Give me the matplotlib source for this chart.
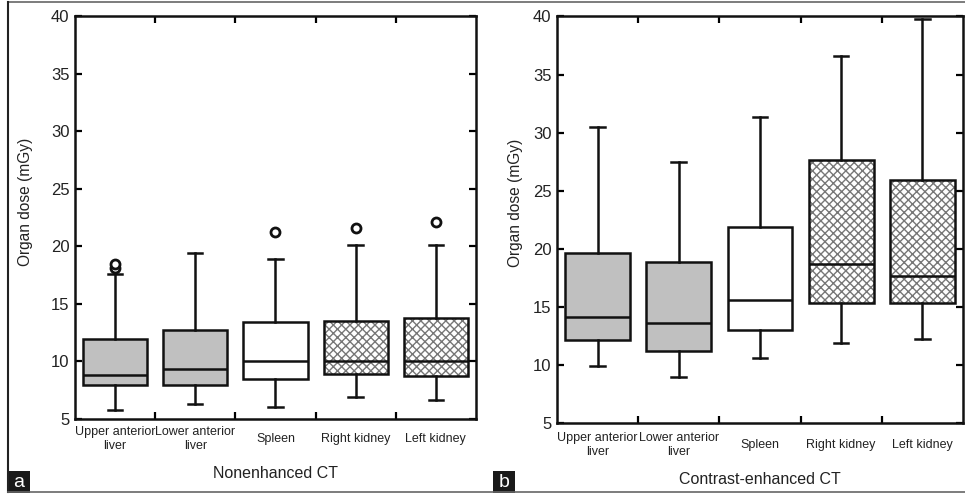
import matplotlib
matplotlib.use("Agg")
import matplotlib.pyplot as plt
from matplotlib.lines import Line2D
from matplotlib.patches import PathPatch, Rectangle

plt.rcParams['font.family'] = ['Liberation Sans', 'DejaVu Sans']
plt.rcParams['hatch.linewidth'] = 1.0

organs = ["Upper anterior\nliver", "Lower anterior\nliver", "Spleen", "Right kidney", "Left kidney"]
fills = ["#c0c0c0", "#c0c0c0", "white", "hatch", "hatch"]

# nonenhanced CT (panel a)
ne_low = [5.75, 6.25, 6.0, 6.9, 6.6]
ne_q1 = [7.9, 7.9, 8.4, 8.85, 8.7]
ne_med = [8.8, 9.3, 10.0, 10.0, 10.0]
ne_q3 = [11.9, 12.7, 13.4, 13.45, 13.7]
ne_high = [17.6, 19.4, 18.9, 20.05, 20.05]
ne_out = [[18.1, 18.4], [], [21.2], [21.6], [22.1]]

# contrast-enhanced CT (panel b)
ce_low = [9.9, 8.9, 10.6, 11.9, 12.2]
ce_q1 = [12.15, 11.15, 13.0, 15.3, 15.3]
ce_med = [14.1, 13.6, 15.6, 18.65, 17.6]
ce_q3 = [19.65, 18.85, 21.85, 27.6, 25.95]
ce_high = [30.5, 27.5, 31.3, 36.6, 39.8]
ce_out = [[], [], [], [], []]


def draw_panel(ax, low, q1, med, q3, high, out, xlabel, lab_pad, ylab_xy):
    stats = [dict(whislo=a, q1=b, med=c, q3=d, whishi=e, fliers=f)
             for a, b, c, d, e, f in zip(low, q1, med, q3, high, out)]
    lw = 1.8
    bp = ax.bxp(stats, positions=range(1, 6), widths=0.8, patch_artist=True,
                capwidths=0.18,
                boxprops=dict(linewidth=lw, edgecolor='#111111'),
                medianprops=dict(color='#111111', linewidth=lw),
                whiskerprops=dict(color='#111111', linewidth=lw),
                capprops=dict(color='#111111', linewidth=lw),
                flierprops=dict(marker='o', markersize=6.5, markerfacecolor='white',
                                markeredgecolor='#111111', markeredgewidth=2))
    for box, fc in zip(bp['boxes'], fills):
        if fc == 'hatch':
            box.set_facecolor('white')
            box.set_edgecolor('#777777')
            box.set_hatch('xxxx')
            box.set_linewidth(0)
            ax.add_patch(PathPatch(box.get_path(), fill=False, edgecolor='#111111',
                                   linewidth=lw, zorder=box.get_zorder() + 0.05))
        else:
            box.set_facecolor(fc)

    ax.set_xlim(0.5, 5.5)
    ax.set_ylim(5, 40)
    ax.set_yticks(range(5, 41, 5))
    ax.set_xticks(range(1, 6))
    ax.set_xticklabels(organs, fontsize=9, va='center', linespacing=1.25,
                       color='#222222')
    ax.set_xticks([1.5, 2.5, 3.5, 4.5], minor=True)
    ax.tick_params(axis='x', which='major', length=0, pad=lab_pad)
    ax.tick_params(axis='x', which='minor', direction='in', length=5, width=1.6,
                   top=True, bottom=True)
    ax.tick_params(axis='y', direction='in', length=5, width=1.6, left=True,
                   right=True, labelsize=12, pad=4, labelcolor='#222222')
    for s in ax.spines.values():
        s.set_linewidth(1.8)
        s.set_color('#111111')
    ax.set_ylabel("Organ dose (mGy)", fontsize=11.2, color='#222222')
    ax.yaxis.set_label_coords(*ylab_xy)
    ax.set_xlabel(xlabel, fontsize=11.5, labelpad=10, color='#222222')


fig = plt.figure(figsize=(9.65, 4.94), dpi=100)
ax1 = fig.add_axes([0.0777, 0.1528, 0.4155, 0.8148])
ax2 = fig.add_axes([0.5772, 0.1443, 0.4207, 0.8223])
draw_panel(ax1, ne_low, ne_q1, ne_med, ne_q3, ne_high, ne_out, "Nonenhanced CT", 15,
           (-0.104, 0.538))
draw_panel(ax2, ce_low, ce_q1, ce_med, ce_q3, ce_high, ce_out, "Contrast-enhanced CT", 16,
           (-0.083, 0.54))

# outer frame
W, H = 965, 494
fig.add_artist(Line2D([8 / W, 1], [1 - 2 / H, 1 - 2 / H], color='#666666', lw=1.2))
fig.add_artist(Line2D([8 / W, 8 / W], [1 - 2 / H, 2 / H], color='#222222', lw=1.5))
fig.add_artist(Line2D([8 / W, 1], [2 / H, 2 / H], color='#666666', lw=1.2))

# panel letters
for x0, letter in [(8, 'a'), (493, 'b')]:
    fig.add_artist(Rectangle((x0 / W, 1 / H), 22 / W, 22 / H, facecolor='#1a1a1a',
                             edgecolor='none', transform=fig.transFigure))
    fig.text((x0 + 11) / W, 12 / H, letter, color='white', fontsize=14,
             ha='center', va='center')

fig.savefig("out.png", dpi=100)
